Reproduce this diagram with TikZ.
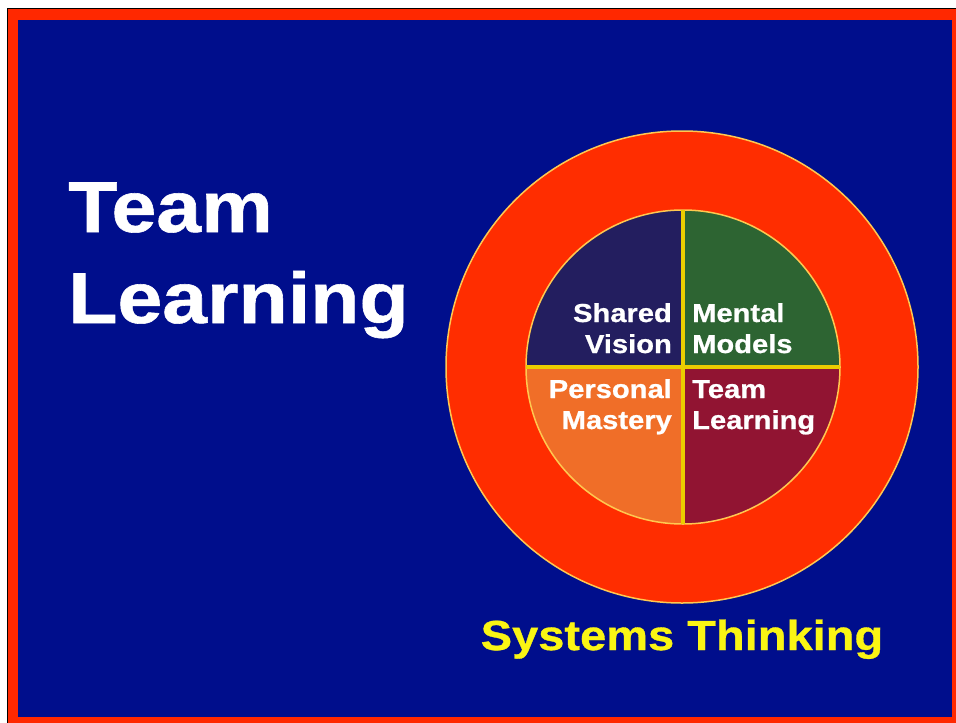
\documentclass[tikz,border=0pt]{standalone}
\usepackage{fontspec}
\setmainfont{Liberation Sans}
\newfontfamily\heavyfont{Liberation Sans}[FakeStretch=1.12, FakeBold=0.8]

\definecolor{bgblue}{RGB}{0,14,140}
\definecolor{framered}{RGB}{255,40,0}
\definecolor{ringred}{RGB}{255,45,0}
\definecolor{quadnavy}{RGB}{35,30,95}
\definecolor{quadgreen}{RGB}{45,100,50}
\definecolor{quadorange}{RGB}{240,110,40}
\definecolor{quadmaroon}{RGB}{145,20,50}
\definecolor{dividergold}{RGB}{235,205,0}
\definecolor{rimgold}{RGB}{255,200,80}
\definecolor{sysyellow}{RGB}{250,245,20}

\begin{document}
\begin{tikzpicture}[x=1pt, y=1pt,
    quadlabel/.style={text=white, font=\heavyfont\bfseries\fontsize{26}{31}\selectfont, inner sep=0pt},
    divider/.style={draw=dividergold, line width=3.5pt},
    rim/.style={draw=rimgold, line width=1.5pt}]

    \useasboundingbox (0,0) rectangle (956,-723);

    % frame
    \fill[white] (0,0) rectangle (956,-723);
    \fill[framered] (8,-9) rectangle (956,-723);
    \draw[black, line width=1pt] (7.5,-723) -- (7.5,-8.5) -- (956,-8.5);
    \fill[bgblue] (18,-20) rectangle (952,-717);

    % circles
    \node[circle, minimum size=472pt, inner sep=0pt, outer sep=0pt, fill=ringred, rim] (ring) at (682,-367) {};
    \node[circle, minimum size=314pt, inner sep=0pt, outer sep=0pt] (core) at (683,-367) {};

    % quadrants
    \fill[quadnavy] (core.center) -- (core.west) arc[start angle=180, end angle=90, radius=157pt] -- cycle;
    \fill[quadgreen] (core.center) -- (core.north) arc[start angle=90, end angle=0, radius=157pt] -- cycle;
    \fill[quadmaroon] (core.center) -- (core.east) arc[start angle=0, end angle=-90, radius=157pt] -- cycle;
    \fill[quadorange] (core.center) -- (core.south) arc[start angle=-90, end angle=-180, radius=157pt] -- cycle;
    \draw[rim] (core.center) circle[radius=157pt];

    % dividers
    \draw[divider] (core.north) -- (core.south);
    \draw[divider] (core.west) -- (core.east);

    % quadrant labels (base = last line)
    \node[quadlabel, anchor=base east, align=right] (shared) at (672,-353) {Shared\\Vision};
    \node[quadlabel, anchor=base west, align=left] (mental) at (692,-353) {Mental\\Models};
    \node[quadlabel, anchor=base east, align=right] (personal) at (672,-429) {Personal\\Mastery};
    \node[quadlabel, anchor=base west, align=left] (team) at (692,-429) {Team\\Learning};

    % title
    \node[anchor=base west, align=left, inner sep=0pt, text=white,
        font=\heavyfont\bfseries\fontsize{72}{91}\selectfont] (title) at (68,-323) {Team\\Learning};

    % systems thinking
    \node[anchor=base, inner sep=0pt, text=sysyellow,
        font=\heavyfont\bfseries\fontsize{42}{50}\selectfont] (systems) at (682,-650) {Systems Thinking};
\end{tikzpicture}
\end{document}
